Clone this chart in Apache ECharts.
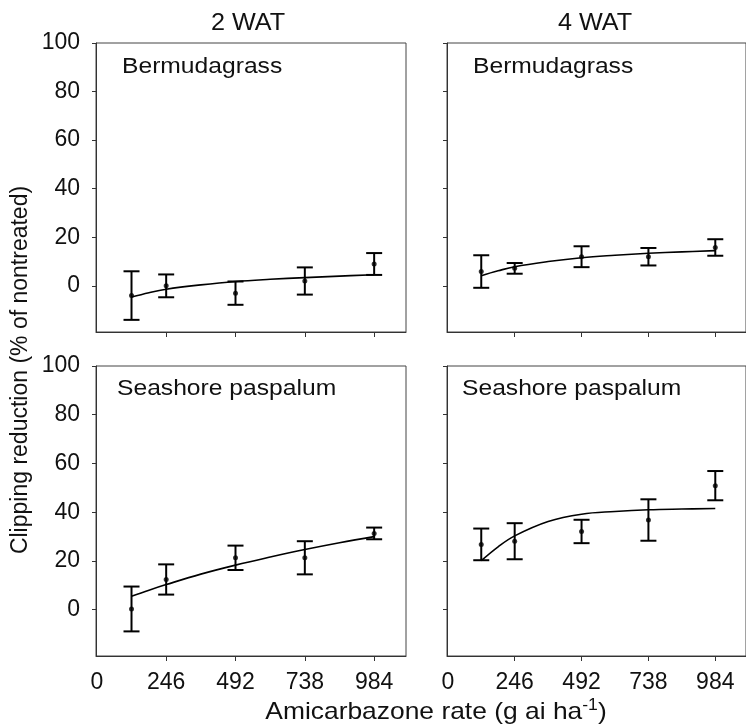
<!DOCTYPE html>
<html>
<head>
<meta charset="utf-8">
<script src="https://cdn.jsdelivr.net/npm/echarts@6/dist/echarts.min.js"></script>
<style>
  html, body { margin: 0; padding: 0; background: #fff; }
  #chart { width: 746px; height: 726px; }
</style>
</head>
<body>
<div id="chart"></div>
<script>
// 施用量 (g ai/ha)
const rates = [123, 246, 492, 738, 984];
const xTickLabels = [0, 246, 492, 738, 984];
const yTickLabels = [0, 20, 40, 60, 80, 100];

// 2 WAT / 4 WAT, 平均值和误差
const bermuda2Mean = [-4, 0, -3, 2, 9];
const bermuda2Err = [10, 4.7, 4.8, 5.6, 4.5];
const bermuda4Mean = [5.9, 7.2, 12, 12, 15.8];
const bermuda4Err = [6.7, 2.2, 4.3, 3.6, 3.4];
const paspalum2Mean = [0.3, 12.4, 21.3, 21.3, 31.3];
const paspalum2Err = [9.2, 6.2, 5, 6.8, 2.4];
const paspalum4Mean = [26.8, 28.1, 32.1, 36.8, 50.9];
const paspalum4Err = [6.5, 7.4, 4.8, 8.5, 6];

// 拟合曲线
const fitRates = [123, 185, 246, 369, 492, 615, 738, 861, 984];
const bermuda2Fit = [-4.6, -2.8, -1.4, 0.4, 1.8, 2.7, 3.4, 4.0, 4.6];
const bermuda4Fit = [4.2, 6.2, 7.9, 10.0, 11.6, 12.6, 13.4, 14.0, 14.5];
const paspalum2Fit = [5.5, 8.0, 10.3, 14.6, 18.3, 21.6, 24.7, 27.5, 30.0];
const paspalum4Fit = [20.1, 25.8, 30.3, 36.2, 39.2, 40.3, 41.0, 41.3, 41.5];

const font = 'Liberation Sans, Arial, sans-serif';
const ink = '#111';

const grids = [
    { left: 96, top: 43, width: 310, height: 289 },
    { left: 447, top: 43, width: 310, height: 289 },
    { left: 96, top: 366, width: 310, height: 290 },
    { left: 447, top: 366, width: 310, height: 290 }
];

function xAxisFor(i) {
    const bottomRow = i >= 2;
    return {
        type: 'value', gridIndex: i, min: -3, max: 1097,
        splitLine: { show: false },
        axisLine: { show: true, onZero: false, lineStyle: { color: '#333', width: 1 } },
        axisTick: { show: true, length: 5, customValues: [246, 492, 738, 984], lineStyle: { color: '#333' } },
        axisLabel: {
            show: bottomRow, customValues: xTickLabels, margin: 15,
            fontSize: 23, color: ink, fontFamily: font
        }
    };
}

function yAxisFor(i) {
    const leftCol = i % 2 === 0;
    return {
        type: 'value', gridIndex: i, min: -19, max: 100,
        splitLine: { show: false },
        axisLine: { show: true, onZero: false, lineStyle: { color: '#333', width: 1 } },
        axisTick: { show: true, length: 4, customValues: yTickLabels, lineStyle: { color: '#333' } },
        axisLabel: {
            show: leftCol, customValues: yTickLabels, margin: 16,
            fontSize: 23, color: ink, fontFamily: font
        }
    };
}

function panelSeries(i, mean, err, fit) {
    const bars = rates.map((r, k) => [r, mean[k] - err[k], mean[k] + err[k]]);
    return [
        {
            type: 'custom', xAxisIndex: i, yAxisIndex: i, data: bars,
            encode: { x: 0, y: [1, 2] },
            renderItem(params, api) {
                const lo = api.coord([api.value(0), api.value(1)]);
                const hi = api.coord([api.value(0), api.value(2)]);
                const w = 8;
                const st = { stroke: '#000', lineWidth: 2 };
                return {
                    type: 'group',
                    children: [
                        { type: 'line', shape: { x1: lo[0], y1: lo[1], x2: hi[0], y2: hi[1] }, style: st },
                        { type: 'line', shape: { x1: lo[0] - w, y1: lo[1], x2: lo[0] + w, y2: lo[1] }, style: st },
                        { type: 'line', shape: { x1: hi[0] - w, y1: hi[1], x2: hi[0] + w, y2: hi[1] }, style: st }
                    ]
                };
            },
            z: 3
        },
        {
            type: 'line', xAxisIndex: i, yAxisIndex: i,
            data: fitRates.map((r, k) => [r, fit[k]]),
            smooth: 0.4, showSymbol: false, symbol: 'none',
            lineStyle: { color: '#000', width: 1.6 }, z: 2
        },
        {
            type: 'scatter', xAxisIndex: i, yAxisIndex: i,
            data: rates.map((r, k) => [r, mean[k]]),
            symbolSize: 5, itemStyle: { color: '#000' }, z: 4
        }
    ];
}

function label(text, x, y, size, sx, align) {
    return {
        type: 'text', x, y, scaleX: sx,
        style: { text, fontSize: size, fontFamily: font, fill: ink, align: align || 'left', verticalAlign: 'middle' }
    };
}

const chart = echarts.init(document.getElementById('chart'));
const option = {
    animation: false,
    backgroundColor: '#fff',
    grid: grids.map(g => Object.assign({ show: true, borderColor: '#444', borderWidth: 1 }, g)),
    xAxis: [0, 1, 2, 3].map(xAxisFor),
    yAxis: [0, 1, 2, 3].map(yAxisFor),
    series: [].concat(
        panelSeries(0, bermuda2Mean, bermuda2Err, bermuda2Fit),
        panelSeries(1, bermuda4Mean, bermuda4Err, bermuda4Fit),
        panelSeries(2, paspalum2Mean, paspalum2Err, paspalum2Fit),
        panelSeries(3, paspalum4Mean, paspalum4Err, paspalum4Fit)
    ),
    graphic: [
        label('2 WAT', 248, 23, 24, 1.05, 'center'),
        label('4 WAT', 595, 23, 24, 1.05, 'center'),
        label('Bermudagrass', 122, 67, 22, 1.12),
        label('Bermudagrass', 473, 67, 22, 1.12),
        label('Seashore paspalum', 117, 389, 22, 1.12),
        label('Seashore paspalum', 462, 389, 22, 1.12),
        {
            type: 'text', x: 21, y: 370, rotation: Math.PI / 2,
            style: {
                text: 'Clipping reduction (% of nontreated)', fontSize: 23, fontFamily: font,
                fill: ink, align: 'center', verticalAlign: 'middle'
            }
        },
        {
            type: 'text', x: 436, y: 712, scaleX: 1.1,
            style: {
                text: '{a|Amicarbazone rate (g ai ha}{s|-1}{a|)}',
                align: 'center', verticalAlign: 'middle',
                rich: {
                    a: { fontSize: 24, fontFamily: font, fill: ink, color: ink },
                    s: { fontSize: 16, fontFamily: font, fill: ink, color: ink, verticalAlign: 'top', padding: [0, 0, 12, 0] }
                }
            }
        }
    ]
};
chart.setOption(option);
</script>
</body>
</html>
